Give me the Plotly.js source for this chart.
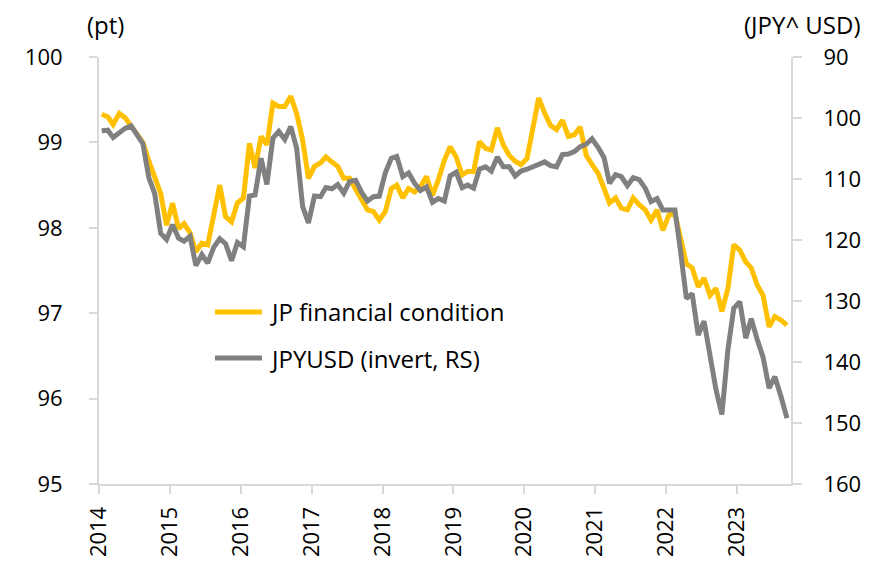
<!DOCTYPE html>
<html><head><meta charset="utf-8">
<script src="https://cdn.plot.ly/plotly-3.0.1.min.js"></script>
<style>html,body{margin:0;padding:0;background:#fff}</style>
</head><body><div id="chart" style="width:879px;height:566px"></div>
<script>
// Monthly observations, Jan 2014 – Sep 2023
const startYear = 2014;
const jpFinancialCondition = [
  99.33, 99.30, 99.21, 99.34, 99.29, 99.20, 99.10, 99.00, 98.78, 98.58, 98.40, 98.03,
  98.29, 97.99, 98.05, 97.94, 97.72, 97.82, 97.80, 98.15, 98.50, 98.13, 98.07, 98.29,
  98.35, 98.99, 98.70, 99.07, 98.97, 99.46, 99.42, 99.42, 99.54, 99.34, 99.03, 98.58,
  98.72, 98.76, 98.83, 98.77, 98.72, 98.58, 98.58, 98.45, 98.33, 98.21, 98.19, 98.09,
  98.19, 98.46, 98.50, 98.35, 98.46, 98.42, 98.48, 98.60, 98.38, 98.56, 98.79, 98.95,
  98.83, 98.62, 98.66, 98.66, 99.01, 98.93, 98.91, 99.17, 98.97, 98.85, 98.78, 98.74,
  98.81, 99.16, 99.52, 99.34, 99.20, 99.15, 99.26, 99.07, 99.09, 99.18, 98.85, 98.74,
  98.64, 98.46, 98.29, 98.35, 98.23, 98.21, 98.35, 98.27, 98.21, 98.09, 98.21, 97.97,
  98.15, 98.17, 97.86, 97.58, 97.53, 97.31, 97.41, 97.21, 97.29, 97.02, 97.29, 97.80,
  97.74, 97.60, 97.53, 97.33, 97.21, 96.84, 96.96, 96.92, 96.86
];
const jpyUsd = [
  102.1, 102.0, 103.2, 102.3, 101.7, 101.3, 102.8, 104.2, 109.8, 112.4, 118.9, 119.9,
  117.5, 119.7, 120.2, 119.4, 124.2, 122.4, 123.8, 121.2, 119.8, 120.6, 123.4, 120.4,
  121.1, 112.8, 112.6, 106.6, 110.9, 103.3, 102.2, 103.5, 101.4, 104.9, 114.5, 117.2,
  112.8, 112.9, 111.4, 111.6, 110.9, 112.3, 110.4, 110.2, 112.2, 113.6, 112.9, 112.8,
  109.0, 106.6, 106.3, 109.6, 109.0, 110.7, 111.9, 111.3, 113.8, 113.2, 113.6, 109.5,
  108.9, 111.4, 111.0, 111.5, 108.4, 108.0, 108.7, 106.4, 108.0, 108.0, 109.5, 108.7,
  108.4, 108.0, 107.6, 107.2, 107.8, 108.0, 106.0, 105.9, 105.5, 104.7, 104.3, 103.4,
  104.8, 106.5, 110.7, 109.3, 109.6, 111.1, 109.8, 110.1, 111.5, 113.7, 113.2, 115.1,
  115.1, 115.1, 121.6, 129.6, 128.8, 135.6, 133.3, 138.9, 144.6, 148.6, 138.0, 131.2,
  130.1, 136.1, 132.9, 136.3, 139.2, 144.3, 142.4, 145.6, 149.2
];
const seriesNames = ['JP financial condition', 'JPYUSD (invert, RS)'];
const seriesColors = ['#FFC000', '#808080'];
const leftTicks = [95, 96, 97, 98, 99, 100];
const rightTicks = [90, 100, 110, 120, 130, 140, 150, 160];

const dates = jpFinancialCondition.map((_, i) => {
  const y = startYear + Math.floor(i / 12);
  const m = (i % 12) + 1;
  return y + '-' + String(m).padStart(2, '0') + '-15';
});

const axisGrey = '#d9d9d9';
const FONT = '"Open Sans", Lato, sans-serif';
const W = 400;
const traces = [
  {x: dates, y: jpFinancialCondition, name: seriesNames[0], type: 'scatter', mode: 'lines',
   line: {color: seriesColors[0], width: 5}, yaxis: 'y', showlegend: false},
  {x: dates, y: jpyUsd, name: seriesNames[1], type: 'scatter', mode: 'lines',
   line: {color: seriesColors[1], width: 5}, yaxis: 'y2', showlegend: false}
];

// manual legend (line sample + label), positioned in paper space
const legendY = [0.403, 0.295];
const shapes = seriesNames.map((n, k) => ({
  type: 'line', xref: 'paper', yref: 'paper', x0: 0.1676, x1: 0.2355,
  y0: legendY[k], y1: legendY[k], line: {color: seriesColors[k], width: 5}
}));
const legendLabels = seriesNames.map((n, k) => ({
  text: n, xref: 'paper', yref: 'paper', x: 0.2445, y: legendY[k], xanchor: 'left',
  yanchor: 'middle', showarrow: false, font: {size: 24, weight: W}
}));

const layout = {
  width: 879, height: 566,
  margin: {l: 99, r: 88, t: 57, b: 82, pad: 0},
  paper_bgcolor: '#fff', plot_bgcolor: '#fff',
  font: {family: FONT, size: 22, color: '#000', weight: W},
  showlegend: false,
  xaxis: {type: 'date', range: ['2014-01-01', '2023-10-06'], tick0: '2014-01-01', dtick: 'M12',
          tickformat: '%Y', tickangle: -90, ticks: 'outside', ticklen: 8, tickwidth: 2,
          tickcolor: axisGrey, showline: true, linecolor: axisGrey, linewidth: 2,
          showgrid: false, zeroline: false, tickfont: {size: 22, weight: W}, ticklabelstandoff: 4},
  yaxis: {range: [95, 100], tickvals: leftTicks, ticks: 'outside', ticklen: 8, tickwidth: 2,
          tickcolor: axisGrey, showline: true, linecolor: axisGrey, linewidth: 2,
          showgrid: false, zeroline: false, tickfont: {size: 22, weight: W}, ticklabelstandoff: 22},
  yaxis2: {overlaying: 'y', side: 'right', range: [160, 90], tickvals: rightTicks,
           ticks: 'outside', ticklen: 9, tickwidth: 2, tickcolor: axisGrey, showline: true,
           linecolor: axisGrey, linewidth: 2, showgrid: false, zeroline: false,
           tickfont: {size: 22, weight: W}, ticklabelstandoff: 17},
  shapes: shapes,
  annotations: [
    {text: '(pt)', xref: 'paper', yref: 'paper', x: 0.0101, y: 1.075, xanchor: 'center',
     yanchor: 'middle', showarrow: false, font: {size: 24, weight: W}},
    {text: '(JPY^ USD)', xref: 'paper', yref: 'paper', x: 1.1026, y: 1.075, xanchor: 'right',
     yanchor: 'middle', showarrow: false, font: {size: 24, weight: W}}
  ].concat(legendLabels)
};

Plotly.newPlot('chart', traces, layout, {displayModeBar: false, responsive: false});
</script></body></html>
